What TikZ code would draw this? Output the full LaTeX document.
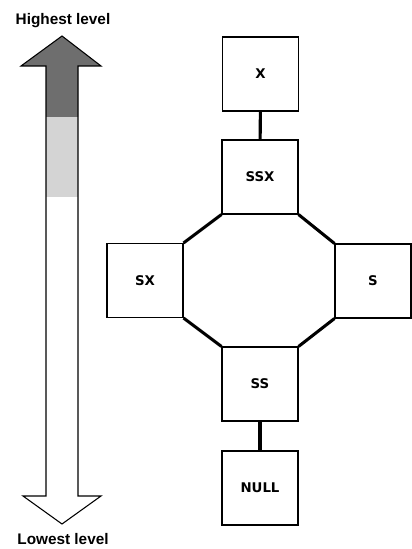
\documentclass[tikz,border=0pt]{standalone}
\usepackage{fontspec}
\setmainfont{Liberation Sans}
\newfontfamily\lblfont{DejaVu Sans}
\begin{document}
\begin{tikzpicture}[x=0.75pt,y=-0.75pt,
  statebox/.style={draw,line width=0.8pt,minimum width=57pt,minimum height=55.5pt,inner sep=0pt,font=\lblfont\bfseries\fontsize{10}{12}\selectfont},
  link/.style={line width=2.3pt},
  lvl/.style={font=\bfseries\fontsize{11.5}{13}\selectfont,inner sep=0pt}]
\useasboundingbox (0,0) rectangle (411,549);
% level arrow fills
\fill[black!57] (62,36) -- (21,66) -- (46,66) -- (46,117) -- (78,117) -- (78,66) -- (101,66) -- cycle;
\fill[black!17] (46,117) rectangle (78,197);
\draw[line width=0.8pt,line join=miter] (62,36) -- (21,66) -- (46,66) -- (46,496) -- (23,496) -- (62,524) -- (101,496) -- (78,496) -- (78,66) -- (101,66) -- cycle;
\node[lvl] (hi) at (63,21) {Highest level};
\node[lvl] (lo) at (63,539) {Lowest level};
% states
\node[statebox] (x) at (260.5,74) {X};
\node[statebox] (ssx) at (260,177) {SSX};
\node[statebox] (sx) at (145,280.5) {SX};
\node[statebox] (s) at (373,281) {S};
\node[statebox] (ss) at (260,384) {SS};
\node[statebox] (null) at (260,488) {NULL};
\draw[link] (x) -- (ssx);
\draw[link] (ssx.south west) -- (sx.north east);
\draw[link] (ssx.south east) -- (s.north west);
\draw[link] (sx.south east) -- (ss.north west);
\draw[link] (s.south west) -- (ss.north east);
\draw[link] (ss) -- (null);
\end{tikzpicture}
\end{document}
